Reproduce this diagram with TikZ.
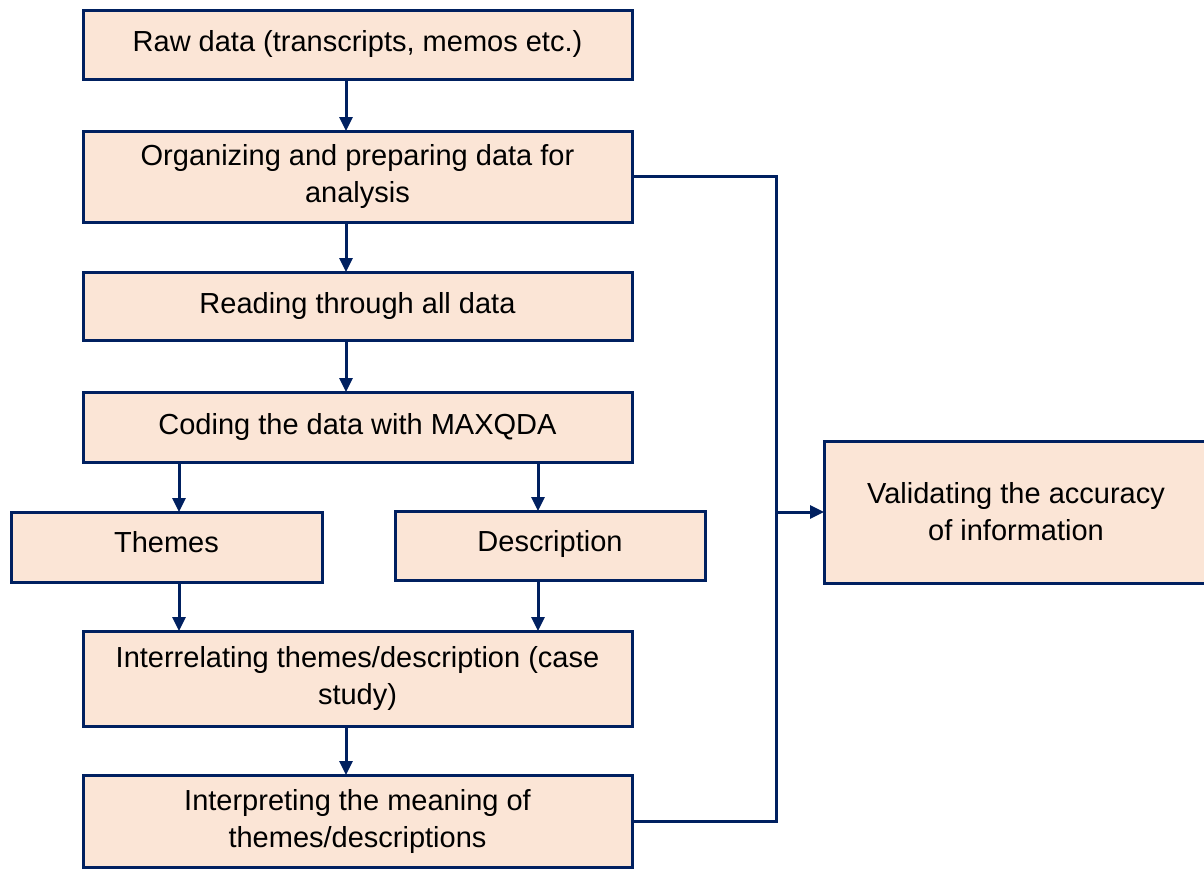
\documentclass[tikz,border=0pt]{standalone}
\usepackage{fontspec}
\setmainfont{Liberation Sans}
\usetikzlibrary{arrows.meta,calc}
\definecolor{navy}{HTML}{002060}
\definecolor{peach}{HTML}{FBE5D6}
\tikzset{
  stepbox/.style={draw=navy, fill=peach, line width=3pt, rectangle, align=center,
    inner sep=0pt, outer sep=0pt, font=\fontsize{29}{37}\selectfont},
  arr/.style={draw=navy, line width=3pt, -{Triangle[width=13pt,length=14pt]}},
  ln/.style={draw=navy, line width=3pt}
}
\begin{document}
\begin{tikzpicture}[x=1pt,y=-1pt]
\useasboundingbox (0,0) rectangle (1204,870);
\node[stepbox, minimum width=549, minimum height=69] (b1) at (357.5,44.5) {\raisebox{2pt}{Raw data (transcripts, memos etc.)}};
\node[stepbox, minimum width=549, minimum height=91] (b2) at (357.5,176.5) {Organizing and preparing data for\\analysis};
\node[stepbox, minimum width=549, minimum height=68] (b3) at (357.5,306) {\raisebox{7pt}{Reading through all data}};
\node[stepbox, minimum width=549, minimum height=70] (b4) at (357.5,427) {\raisebox{7pt}{Coding the data with MAXQDA}};
\node[stepbox, minimum width=311, minimum height=70] (th) at (166.5,547) {\raisebox{10pt}{Themes}};
\node[stepbox, minimum width=310, minimum height=69] (de) at (550,545.5) {\raisebox{10pt}{Description}};
\node[stepbox, minimum width=549, minimum height=95] (b6) at (357.5,678.5) {Interrelating themes/description (case\\study)};
\node[stepbox, minimum width=549, minimum height=92] (b7) at (357.5,821) {Interpreting the meaning of\\themes/descriptions};
\node[stepbox, minimum width=384, minimum height=142] (va) at (1016,512) {Validating the accuracy\\of information};
\coordinate (ax) at (346,0);
\coordinate (tx) at (179,0);
\coordinate (dx) at (538,0);
\coordinate (rx) at (776,0);
\draw[arr] (b1.south -| ax) -- (b2.north -| ax);
\draw[arr] (b2.south -| ax) -- (b3.north -| ax);
\draw[arr] (b3.south -| ax) -- (b4.north -| ax);
\draw[arr] (b4.south -| tx) -- (th.north -| tx);
\draw[arr] (b4.south -| dx) -- (de.north -| dx);
\draw[arr] (th.south -| tx) -- (b6.north -| tx);
\draw[arr] (de.south -| dx) -- (b6.north -| dx);
\draw[arr] (b6.south -| ax) -- (b7.north -| ax);
\draw[ln, line join=miter] (b2.east) -- (b2.east -| rx) -- (b7.east -| rx) -- (b7.east);
\draw[arr] (va.west -| rx) -- (va.west);
\end{tikzpicture}
\end{document}
